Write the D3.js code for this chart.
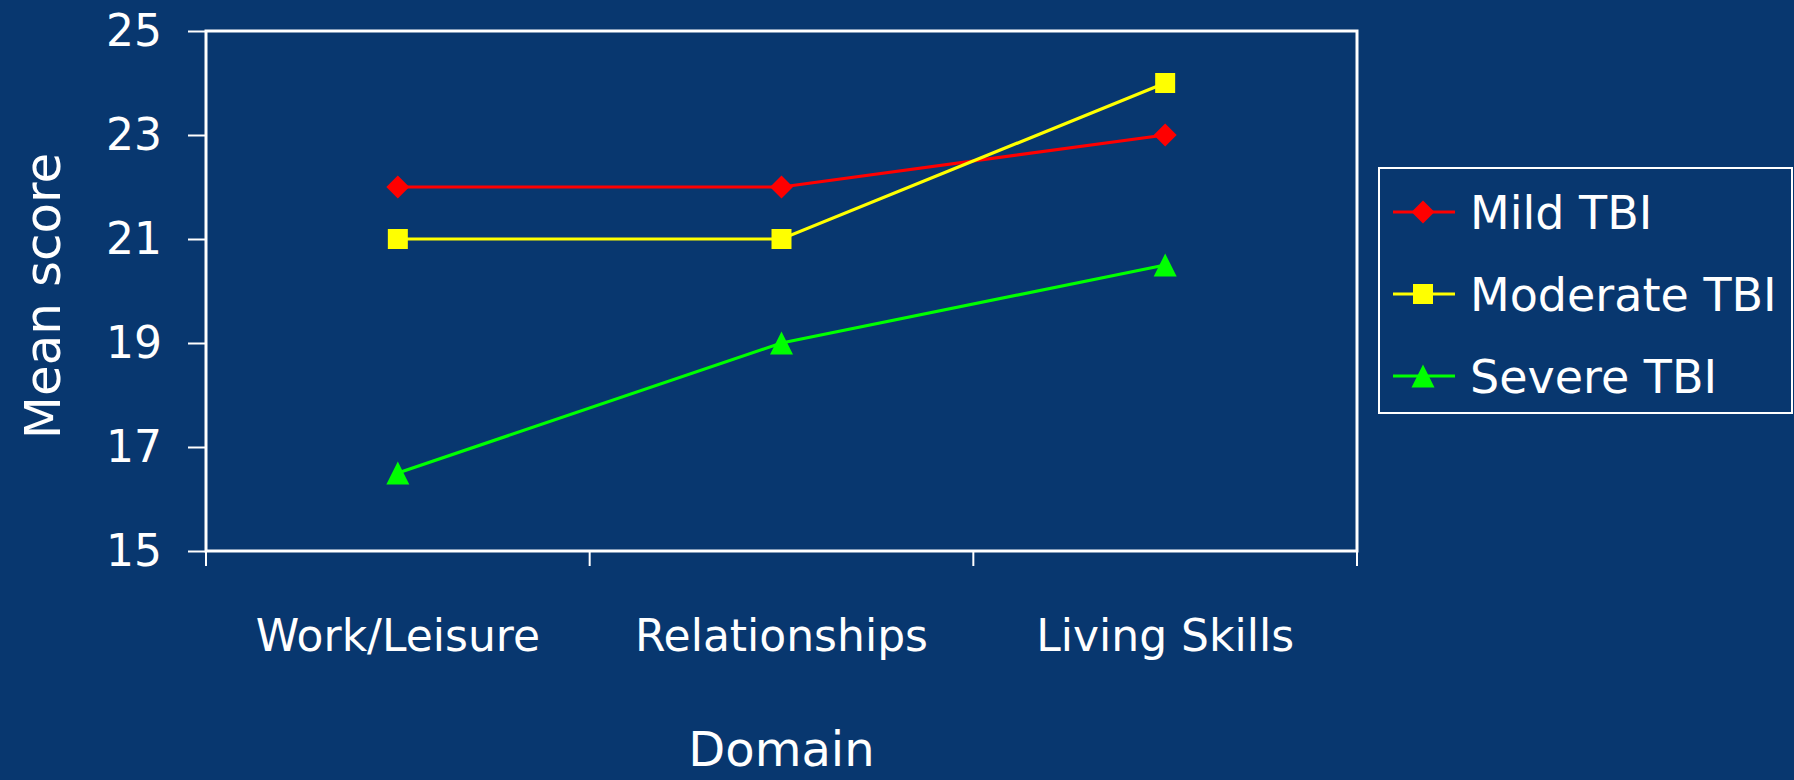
<!DOCTYPE html>
<html><head><meta charset="utf-8">
<script src="https://cdn.jsdelivr.net/npm/d3@7"></script>
<style>
html,body{margin:0;padding:0;background:#08376f;}
svg{display:block;}
text{font-family:"Comic Sans MS","DejaVu Sans",sans-serif;fill:#fff;}
</style></head>
<body>
<svg id="chart" width="1794" height="780"></svg>
<script>
const categories = ["Work/Leisure", "Relationships", "Living Skills"];
const seriesNames = ["Mild TBI", "Moderate TBI", "Severe TBI"];
const mild = [22, 22, 23];
const moderate = [21, 21, 24];
const severe = [16.5, 19, 20.5];
const yTicks = [15, 17, 19, 21, 23, 25];
const seriesColors = ["#ff0000", "#ffff00", "#00ff00"];
const seriesShapes = ["diamond", "square", "triangle"];

const series = [mild, moderate, severe].map((v, i) => ({name: seriesNames[i], values: v, color: seriesColors[i], shape: seriesShapes[i]}));

const W = 1794, H = 780;
const plot = {left: 206, right: 1357, top: 31, bottom: 551};
const svg = d3.select("#chart");
svg.append("rect").attr("width", W).attr("height", H).attr("fill", "#08376f");

const x = d3.scaleBand().domain(categories).range([plot.left, plot.right]);
const y = d3.scaleLinear().domain([15, 25]).range([plot.bottom, plot.top]);

const shapeTypes = {
  diamond: {draw(ctx, s){ const r = 11.5; ctx.moveTo(0,-r); ctx.lineTo(r,0); ctx.lineTo(0,r); ctx.lineTo(-r,0); ctx.closePath(); }},
  square: {draw(ctx, s){ const r = 10; ctx.moveTo(-r,-r); ctx.lineTo(r,-r); ctx.lineTo(r,r); ctx.lineTo(-r,r); ctx.closePath(); }},
  triangle: {draw(ctx, s){ const w = 11.5, h = 11.5; ctx.moveTo(0,-h); ctx.lineTo(w,h); ctx.lineTo(-w,h); ctx.closePath(); }}
};

// plot border
svg.append("rect")
  .attr("x", plot.left).attr("y", plot.top)
  .attr("width", plot.right - plot.left).attr("height", plot.bottom - plot.top)
  .attr("fill", "none").attr("stroke", "#fff").attr("stroke-width", 3);

// y axis
const yAxis = d3.axisLeft(y).tickValues(yTicks).tickSize(18).tickPadding(26).tickFormat(d3.format("d"));
const gy = svg.append("g").attr("transform", `translate(${plot.left},0)`).call(yAxis);
gy.select(".domain").remove();
gy.selectAll(".tick line").attr("stroke", "#fff").attr("stroke-width", 2);
gy.selectAll(".tick text").attr("font-size", 44).attr("fill", "#fff")
  .style("font-family", '"Comic Sans MS","DejaVu Sans",sans-serif');

// x axis: ticks at category boundaries
const boundaries = categories.map(c => x(c)).concat([plot.right]);
const gx = svg.append("g");
gx.selectAll("line").data(boundaries).join("line")
  .attr("x1", d => d).attr("x2", d => d)
  .attr("y1", plot.bottom).attr("y2", plot.bottom + 15)
  .attr("stroke", "#fff").attr("stroke-width", 2);
gx.selectAll("text").data(categories).join("text")
  .attr("x", d => x(d) + x.bandwidth() / 2).attr("y", 651)
  .attr("text-anchor", "middle").attr("font-size", 44).text(d => d);

// axis titles
svg.append("text").attr("transform", "translate(60,296) rotate(-90)")
  .attr("text-anchor", "middle").attr("font-size", 50).text("Mean score");
svg.append("text").attr("x", x(categories[1]) + x.bandwidth()/2).attr("y", 766)
  .attr("text-anchor", "middle").attr("font-size", 48).text("Domain");

// lines
const line = d3.line().x((d, i) => x(categories[i]) + x.bandwidth()/2).y(d => y(d));
series.forEach(s => {
  svg.append("path").datum(s.values).attr("d", line)
    .attr("fill", "none").attr("stroke", s.color).attr("stroke-width", 3.2);
});
series.forEach(s => {
  svg.append("g").selectAll("path").data(s.values).join("path")
    .attr("transform", (d, i) => `translate(${x(categories[i]) + x.bandwidth()/2},${y(d)})`)
    .attr("d", d3.symbol().type(shapeTypes[s.shape])())
    .attr("fill", s.color);
});

// legend
const lg = svg.append("g");
lg.append("rect").attr("x", 1379).attr("y", 168).attr("width", 413).attr("height", 245)
  .attr("fill", "none").attr("stroke", "#fff").attr("stroke-width", 2);
const rowY = d3.scalePoint().domain(seriesNames).range([212, 376]);
series.forEach(s => {
  const yy = rowY(s.name);
  lg.append("line").attr("x1", 1393).attr("x2", 1455).attr("y1", yy).attr("y2", yy)
    .attr("stroke", s.color).attr("stroke-width", 3.2);
  lg.append("path").attr("transform", `translate(1423,${yy})`)
    .attr("d", d3.symbol().type(shapeTypes[s.shape])()).attr("fill", s.color);
  lg.append("text").attr("x", 1470).attr("y", yy).attr("dy", "0.36em")
    .attr("font-size", 46).text(s.name);
});
</script>
</body></html>
